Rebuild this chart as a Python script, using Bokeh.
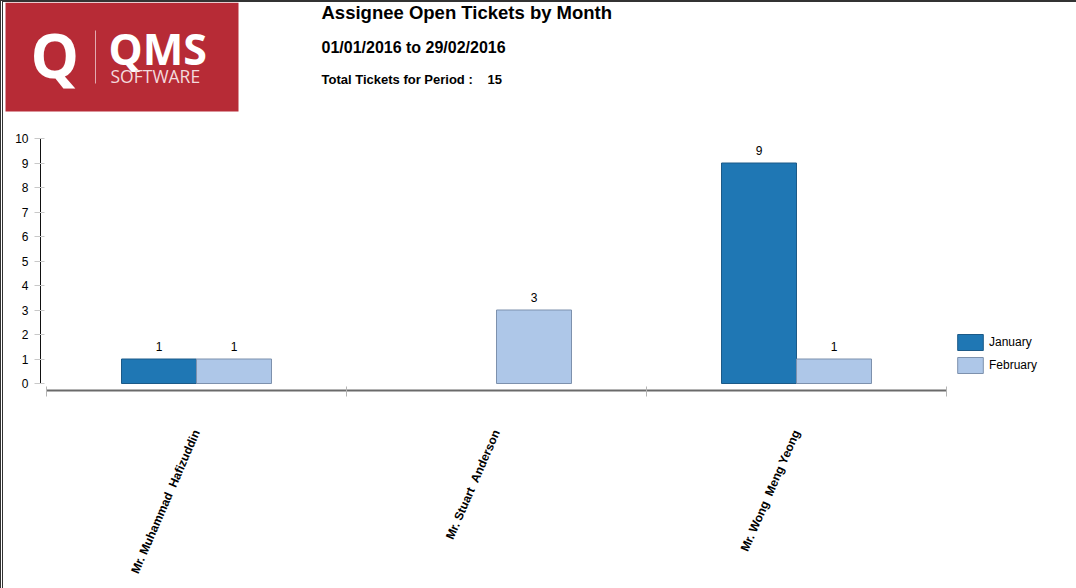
from bokeh.plotting import figure
from bokeh.models import Range1d, FixedTicker, Legend, LegendItem
from bokeh.layouts import column
from bokeh.core.properties import value
from bokeh.embed import file_html
from bokeh.resources import INLINE

# ---- data ----
report_title = "Assignee Open Tickets by Month"
period = "01/01/2016 to 29/02/2016"
total_label = "Total Tickets for Period :"
assignees = ["Mr. Muhammad \u00a0Hafizuddin", "Mr. Stuart \u00a0Anderson", "Mr. Wong \u00a0Meng Yeong"]
months = ["January", "February"]
january = [1, 0, 9]
february = [1, 3, 1]
y_ticks = list(range(0, 11))
total = sum(january) + sum(february)

FONT = value("Liberation Sans")
W = 1073          # page is 1076 wide, 3px taken by the left border
H_HDR = 126
H_CHART = 460


def no_align(fig):
    try:
        fig.frame_align = False
    except Exception:
        pass


# ---- header (logo + titles), 1 data unit = 1 px ----
hdr = figure(width=W, height=H_HDR, x_range=Range1d(0, W), y_range=Range1d(H_HDR, 0),
             output_backend="svg", toolbar_location=None, title=None,
             x_axis_location=None, y_axis_location=None, min_border=0,
             min_border_left=0, min_border_right=0, min_border_top=0, min_border_bottom=0,
             outline_line_color=None)
no_align(hdr)
hdr.grid.visible = False
hdr.quad(left=[2], right=[235], top=[0], bottom=[109], fill_color="#b72b36", line_color=None)
hdr.text(x=[27], y=[52], text=["Q"], text_font=value("Open Sans"), text_font_style="bold",
         text_font_size="61px", text_color="white", text_baseline="alphabetic")
hdr.segment(x0=[92], y0=[28], x1=[92], y1=[81], line_color="#e2aab0", line_width=1)
hdr.text(x=[105], y=[46], text=["QMS"], text_font=value("Open Sans"), text_font_style="bold",
         text_font_size="43px", text_color="white", text_baseline="alphabetic")
hdr.text(x=[107], y=[73], text=["SOFTWARE"], text_font=value("Open Sans"),
         text_font_size="17.5px", text_color="#f3dadd", text_baseline="alphabetic")
hdr.text(x=[318], y=[10], text=[report_title], text_font=FONT, text_font_style="bold",
         text_font_size="18.5px", text_color="black", text_baseline="alphabetic")
hdr.text(x=[318], y=[44.5], text=[period], text_font=FONT, text_font_style="bold",
         text_font_size="16px", text_color="black", text_baseline="alphabetic")
hdr.text(x=[318], y=[77], text=[total_label], text_font=FONT, text_font_style="bold",
         text_font_size="13px", text_color="black", text_baseline="alphabetic")
hdr.text(x=[484], y=[77], text=[str(total)], text_font=FONT, text_font_style="bold",
         text_font_size="13px", text_color="black", text_baseline="alphabetic")

# ---- chart ----
PX_X = 300.0   # px per category
PX_Y = 24.5    # px per ticket
p = figure(width=W, height=H_CHART, title=None,
           x_range=Range1d(-6 / PX_X, (W - 43) / PX_X),
           y_range=Range1d(-7 / PX_Y, 10),
           output_backend="svg", toolbar_location=None,
           min_border_left=37, min_border_right=0, min_border_top=10, min_border_bottom=198,
           outline_line_color=None)
no_align(p)
p.grid.visible = False

bw = 0.25
jx = [i + 0.5 - bw / 2 for i, v in enumerate(january) if v > 0]
jv = [v for v in january if v > 0]
fx = [i + 0.5 + bw / 2 for i, v in enumerate(february) if v > 0]
fv = [v for v in february if v > 0]

rj = p.vbar(x=jx, top=jv, bottom=0, width=bw, fill_color="#1f77b4", line_color="#1c5a88", line_width=1)
rf = p.vbar(x=fx, top=fv, bottom=0, width=bw, fill_color="#aec7e8", line_color="#7d91ad", line_width=1)

for xs, vs in ((jx, jv), (fx, fv)):
    p.text(x=xs, y=vs, text=[str(v) for v in vs], text_font=FONT, text_font_size="12px",
           text_color="black", text_align="center", text_baseline="alphabetic", y_offset=-13)

# y axis
ya = p.yaxis[0]
ya.ticker = FixedTicker(ticks=y_ticks, minor_ticks=[])
ya.bounds = (0, 10)
ya.axis_line_color = "#111111"
ya.major_tick_in = 4
ya.major_tick_out = 6
ya.major_tick_line_color = "#c8c8c8"
ya.minor_tick_line_color = None
ya.major_label_standoff = 6
ya.major_label_text_font = "Liberation Sans"
ya.major_label_text_font_size = "12px"
ya.major_label_text_color = "black"

# x axis
xa = p.xaxis[0]
xa.ticker = FixedTicker(ticks=[i + 0.5 for i in range(len(assignees))],
                        minor_ticks=list(range(len(assignees) + 1)))
xa.bounds = (0, len(assignees))
xa.major_label_overrides = {i + 0.5: name for i, name in enumerate(assignees)}
xa.axis_line_color = "#6a6a6a"
xa.axis_line_width = 2
xa.major_tick_line_color = None
xa.major_tick_in = 0
xa.major_tick_out = 0
xa.minor_tick_in = 4
xa.minor_tick_out = 6
xa.minor_tick_line_color = "#b5b5b5"
xa.major_label_orientation = 1.16
xa.major_label_standoff = 34
xa.major_label_text_font = "Liberation Sans"
xa.major_label_text_font_style = "bold"
xa.major_label_text_font_size = "12px"
xa.major_label_text_color = "black"

legend = Legend(items=[LegendItem(label=months[0], renderers=[rj]),
                       LegendItem(label=months[1], renderers=[rf])],
                location=(914, 15), orientation="vertical",
                glyph_width=32, glyph_height=20, label_height=20, spacing=3,
                label_standoff=3, padding=0, margin=0,
                border_line_color=None, background_fill_alpha=0,
                label_text_font="Liberation Sans", label_text_font_size="12px",
                label_text_color="black")
p.add_layout(legend)

layout = column(hdr, p, spacing=0,
                styles={"border-left": "3px double #333333", "border-top": "2px solid #333333"})
open("out.html", "w").write(file_html(layout, INLINE))
